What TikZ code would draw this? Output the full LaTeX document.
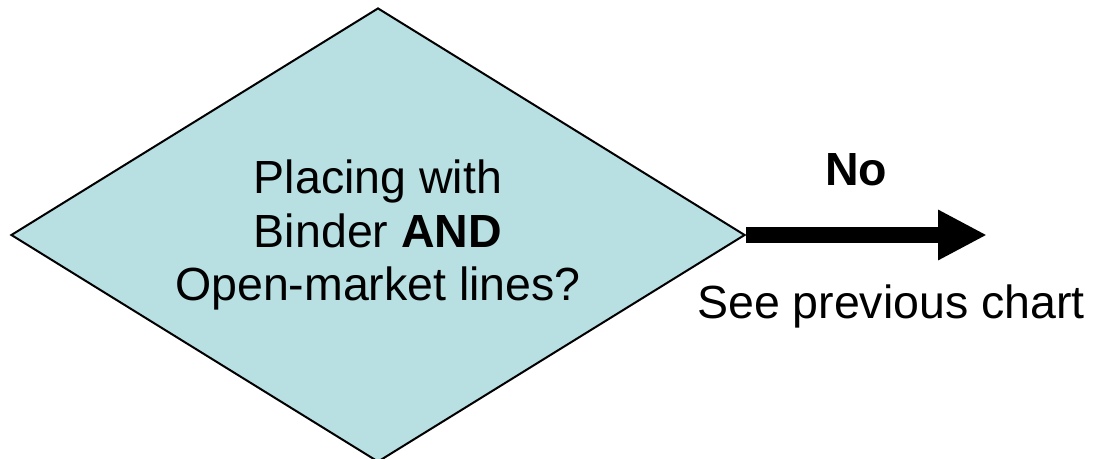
\documentclass[tikz,border=0pt]{standalone}
\usepackage{fontspec}
\setmainfont{Liberation Sans}
\usetikzlibrary{shapes.geometric,arrows.meta}
\definecolor{dfill}{RGB}{184,223,226}
\tikzset{
  decision/.style={diamond, aspect=1.617, draw=black, line width=2pt, fill=dfill, minimum width=734pt, minimum height=454pt, inner sep=0pt, align=center, font=\fontsize{46.5}{53.5}\selectfont},
  lbl/.style={font=\fontsize{46.5}{53.5}\selectfont, inner sep=0pt},
  bigarrow/.style={line width=16pt, -{Triangle[length=49pt,width=47pt]}}
}
\begin{document}
\begin{tikzpicture}[x=1pt,y=1pt]
\useasboundingbox (0,0) rectangle (1099,458);
\node[decision] (d) at (378,223) {Placing with\\Binder \textbf{AND}\\Open-market lines?};
\coordinate (end) at (987,223);
\draw[bigarrow] (d.east) -- (end);
\node[lbl, font=\fontsize{46.5}{53.5}\selectfont\bfseries] (no) at (856,288) {No};
\node[lbl] (see) at (891,152) {See previous chart};
\end{tikzpicture}
\end{document}
